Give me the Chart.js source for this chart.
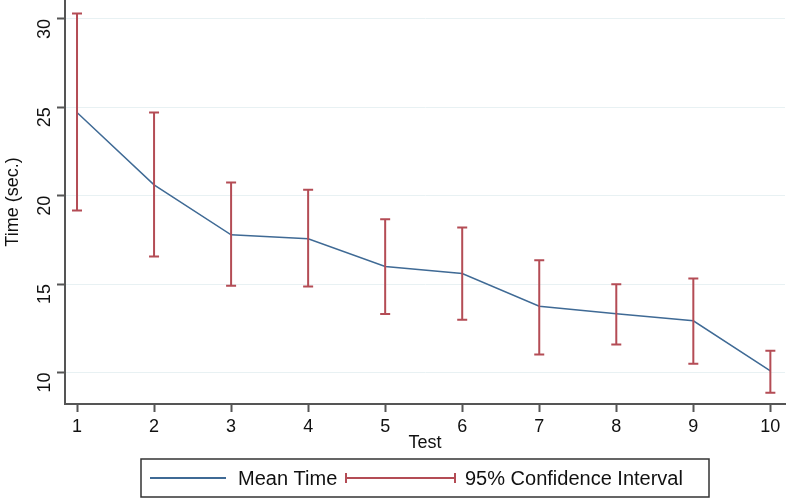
<!DOCTYPE html>
<html>
<head>
<meta charset="utf-8">
<script src="https://cdn.jsdelivr.net/npm/chart.js@4.4.1/dist/chart.umd.min.js"></script>
<style>
  html, body { margin: 0; padding: 0; background: #fff; }
  #wrap { width: 787px; height: 504px; position: relative; }
</style>
</head>
<body>
<div id="wrap"><canvas id="chart"></canvas></div>
<script>
// data
const tests = [1, 2, 3, 4, 5, 6, 7, 8, 9, 10];
const meanTime = [24.70, 20.61, 17.78, 17.56, 15.99, 15.59, 13.74, 13.31, 12.92, 10.09];
const ciUpper = [30.30, 24.70, 20.74, 20.33, 18.67, 18.20, 16.35, 14.98, 15.31, 11.22];
const ciLower = [19.16, 16.56, 14.90, 14.86, 13.30, 12.98, 11.01, 11.58, 10.49, 8.85];
const yTicks = [10, 15, 20, 25, 30];

const lineColor = '#3f6a95';
const ciColor = '#b44c55';
const font = '"Liberation Sans", Arial, sans-serif';

// draw the confidence interval whiskers with the chart's scales
const errorBars = {
  id: 'errorBars',
  afterDatasetsDraw(chart) {
    const { ctx, scales: { x, y } } = chart;
    ctx.save();
    ctx.strokeStyle = ciColor;
    ctx.lineWidth = 2;
    tests.forEach((t, i) => {
      const px = x.getPixelForValue(t);
      const top = y.getPixelForValue(ciUpper[i]);
      const bot = y.getPixelForValue(ciLower[i]);
      ctx.beginPath();
      ctx.moveTo(px, top); ctx.lineTo(px, bot);
      ctx.moveTo(px - 5, top); ctx.lineTo(px + 5, top);
      ctx.moveTo(px - 5, bot); ctx.lineTo(px + 5, bot);
      ctx.stroke();
    });
    ctx.restore();
  }
};

// boxed legend under the axis title
const boxLegend = {
  id: 'boxLegend',
  afterDraw(chart) {
    const ctx = chart.ctx;
    ctx.save();
    ctx.strokeStyle = '#333';
    ctx.lineWidth = 1.5;
    ctx.strokeRect(141, 459, 568, 38);
    const cy = 478;
    ctx.strokeStyle = lineColor;
    ctx.lineWidth = 2;
    ctx.beginPath(); ctx.moveTo(150, cy); ctx.lineTo(226, cy); ctx.stroke();
    ctx.strokeStyle = ciColor;
    ctx.beginPath();
    ctx.moveTo(346, cy); ctx.lineTo(455, cy);
    ctx.moveTo(346, cy - 5); ctx.lineTo(346, cy + 5);
    ctx.moveTo(455, cy - 5); ctx.lineTo(455, cy + 5);
    ctx.stroke();
    ctx.fillStyle = '#111';
    ctx.font = '20px ' + font;
    ctx.textBaseline = 'middle';
    ctx.fillText('Mean Time', 238, cy + 1);
    ctx.fillText('95% Confidence Interval', 465, cy + 1);
    ctx.restore();
  }
};

const ctx = document.getElementById('chart');
new Chart(ctx, {
  type: 'line',
  data: {
    labels: tests,
    datasets: [{
      label: 'Mean Time',
      data: tests.map((t, i) => ({ x: t, y: meanTime[i] })),
      borderColor: lineColor,
      borderWidth: 1.5,
      pointRadius: 0,
      tension: 0,
      fill: false
    }]
  },
  options: {
    responsive: true,
    maintainAspectRatio: false,
    animation: false,
    layout: { padding: { top: 0, right: 2, left: 0, bottom: 45 } },
    plugins: {
      legend: { display: false },
      tooltip: { enabled: false }
    },
    scales: {
      x: {
        type: 'linear',
        min: 0.844,
        max: 10.19,
        afterBuildTicks: s => { s.ticks = tests.map(v => ({ value: v })); },
        afterFit: s => { s.height = 55; s.paddingLeft = 0; s.paddingRight = 0; },
        grid: { drawOnChartArea: false, tickLength: 8, tickColor: '#555', tickWidth: 2 },
        border: { color: '#555', width: 2 },
        ticks: { color: '#111', font: { family: font, size: 18 }, padding: 4 },
        title: { display: true, text: 'Test', color: '#111', font: { family: font, size: 18 }, padding: { top: 0, bottom: 5 } }
      },
      y: {
        min: 8.21,
        max: 31.07,
        afterBuildTicks: s => { s.ticks = yTicks.map(v => ({ value: v })); },
        afterFit: s => { s.width = 65; s.paddingTop = 0; s.paddingBottom = 0; },
        grid: { color: '#e8f1f3', lineWidth: 1, tickLength: 8, tickColor: '#555', tickWidth: 2 },
        border: { color: '#555', width: 2 },
        ticks: { color: '#111', font: { family: font, size: 18 }, minRotation: 90, maxRotation: 90, padding: 12 },
        title: { display: true, text: 'Time (sec.)', color: '#111', font: { family: font, size: 18 }, padding: { top: 2, bottom: 0 } }
      }
    }
  },
  plugins: [errorBars, boxLegend]
});
</script>
</body>
</html>
